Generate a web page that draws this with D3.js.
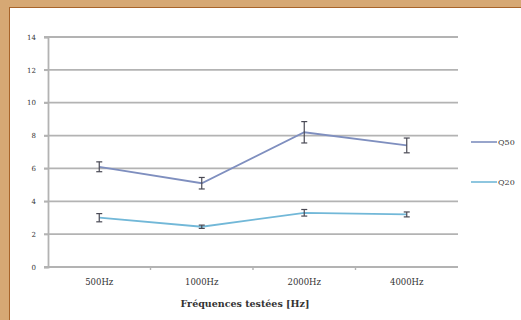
<!DOCTYPE html>
<html>
<head>
<meta charset="utf-8">
<script src="https://cdn.jsdelivr.net/npm/d3@7"></script>
<style>
  html, body { margin: 0; padding: 0; background: #fff; }
  svg { display: block; }
</style>
</head>
<body>
<svg id="chart" width="521" height="320"></svg>
<script>
// Tested frequencies and mean thresholds with their spread
const categories = ["500Hz", "1000Hz", "2000Hz", "4000Hz"];
const q50Values = [6.1, 5.1, 8.2, 7.4];
const q50Errors = [0.3, 0.35, 0.65, 0.45];
const q20Values = [3.0, 2.45, 3.3, 3.2];
const q20Errors = [0.25, 0.1, 0.2, 0.15];
const yTicks = [0, 2, 4, 6, 8, 10, 12, 14];
const seriesNames = ["Q50", "Q20"];

const series = [
  { name: seriesNames[0], values: q50Values, errors: q50Errors, color: "#7f8fbf" },
  { name: seriesNames[1], values: q20Values, errors: q20Errors, color: "#72b8d8" }
];

const svg = d3.select("#chart");

// Page frame: tan band along the top and left edges
svg.append("rect").attr("x", 0).attr("y", 0).attr("width", 521).attr("height", 320).attr("fill", "#d6a874");
svg.append("rect").attr("x", 9).attr("y", 7).attr("width", 512).attr("height", 313).attr("fill", "#ffffff");
svg.append("line").attr("x1", 9).attr("x2", 521).attr("y1", 7.5).attr("y2", 7.5).attr("stroke", "#a8642a").attr("stroke-width", 1);
svg.append("line").attr("x1", 9.5).attr("x2", 9.5).attr("y1", 7).attr("y2", 320).attr("stroke", "#a8642a").attr("stroke-width", 1);

const x = d3.scaleBand().domain(categories).range([48, 458]);
const y = d3.scaleLinear().domain([0, 14]).range([267, 37]);

const gridColor = "#b3b3b3";
const textColor = "#333333";
const serif = "'DejaVu Serif', 'Liberation Serif', serif";

// Horizontal gridlines
svg.append("g")
  .selectAll("line")
  .data(yTicks)
  .join("line")
  .attr("x1", 44)
  .attr("x2", 458)
  .attr("y1", d => y(d))
  .attr("y2", d => y(d))
  .attr("stroke", gridColor)
  .attr("stroke-width", 1.8);

// Y axis
const yAxis = svg.append("g")
  .attr("transform", "translate(48,0)")
  .call(d3.axisLeft(y).tickValues(yTicks).tickSize(4).tickPadding(8));
yAxis.select(".domain").attr("stroke", gridColor).attr("stroke-width", 1.8);
yAxis.selectAll(".tick line").attr("stroke", gridColor).attr("stroke-width", 1.4);
yAxis.selectAll("text").attr("fill", textColor).attr("font-size", 7).attr("font-family", serif);

// X axis
const xAxis = svg.append("g")
  .attr("transform", `translate(0,${y(0)})`)
  .call(d3.axisBottom(x).tickSize(0).tickPadding(12));
xAxis.select(".domain").remove();
xAxis.selectAll("text").attr("fill", textColor).attr("font-size", 8.5).attr("font-family", serif);

// Tick marks on the band boundaries
svg.append("g")
  .selectAll("line")
  .data(categories.slice(1))
  .join("line")
  .attr("x1", d => x(d))
  .attr("x2", d => x(d))
  .attr("y1", y(0))
  .attr("y2", y(0) + 3)
  .attr("stroke", gridColor)
  .attr("stroke-width", 1.4);

// X axis title
svg.append("text")
  .attr("x", 245)
  .attr("y", 307)
  .attr("text-anchor", "middle")
  .attr("font-family", serif)
  .attr("font-weight", "bold")
  .attr("font-size", 9.5)
  .attr("fill", textColor)
  .text("Fréquences testées [Hz]");

const cx = d => x(d) + x.bandwidth() / 2;
const line = d3.line().x(d => cx(d.cat)).y(d => y(d.v));

series.forEach(s => {
  const pts = categories.map((c, i) => ({ cat: c, v: s.values[i], e: s.errors[i] }));
  svg.append("path")
    .datum(pts)
    .attr("d", line)
    .attr("fill", "none")
    .attr("stroke", s.color)
    .attr("stroke-width", 1.8);

  const eb = svg.append("g").attr("stroke", "#4a4a55").attr("stroke-width", 1.2);
  pts.forEach(p => {
    const px = cx(p.cat);
    eb.append("line").attr("x1", px).attr("x2", px).attr("y1", y(p.v - p.e)).attr("y2", y(p.v + p.e));
    eb.append("line").attr("x1", px - 3).attr("x2", px + 3).attr("y1", y(p.v + p.e)).attr("y2", y(p.v + p.e));
    eb.append("line").attr("x1", px - 3).attr("x2", px + 3).attr("y1", y(p.v - p.e)).attr("y2", y(p.v - p.e));
  });
});

// Legend
const legend = svg.append("g");
series.forEach((s, i) => {
  const ly = 142 + i * 40;
  legend.append("line")
    .attr("x1", 471).attr("x2", 497)
    .attr("y1", ly).attr("y2", ly)
    .attr("stroke", s.color).attr("stroke-width", 1.6);
  legend.append("text")
    .attr("x", 498).attr("y", ly + 3)
    .attr("font-family", serif)
    .attr("font-size", 8)
    .attr("fill", textColor)
    .text(s.name);
});
</script>
</body>
</html>
